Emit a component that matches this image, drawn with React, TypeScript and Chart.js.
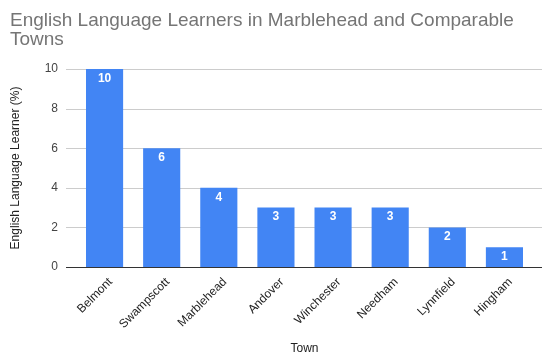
import React, { useEffect, useRef } from "react";
import { Chart, registerables } from "chart.js";

Chart.register(...registerables);

const titleLines = ["English Language Learners in Marblehead and Comparable", "Towns"];
const towns = ["Belmont", "Swampscott", "Marblehead", "Andover", "Winchester", "Needham", "Lynnfield", "Hingham"];
const values = [10, 6, 4, 3, 3, 3, 2, 1];
const yTicks = [0, 2, 4, 6, 8, 10];
const xTitle = "Town";
const yTitle = "English Language Learner (%)";

const FONT = "Arial, 'Liberation Sans', sans-serif";

export default function App() {
  const ref = useRef<HTMLCanvasElement>(null);
  useEffect(() => {
    const decor = {
      id: "decor",
      beforeDatasetsDraw(chart: any) {
        const { ctx, chartArea } = chart;
        const y = chart.scales.y;
        ctx.save();
        ctx.lineWidth = 1;
        ctx.strokeStyle = "#cccccc";
        yTicks.forEach((t) => {
          if (t === 0) return;
          const py = Math.round(y.getPixelForValue(t)) + 0.5;
          ctx.beginPath();
          ctx.moveTo(chartArea.left - 10, py);
          ctx.lineTo(chartArea.right + 9, py);
          ctx.stroke();
        });
        ctx.restore();
      },
      afterDatasetsDraw(chart: any) {
        const { ctx, chartArea } = chart;
        const y = chart.scales.y;
        ctx.save();
        ctx.strokeStyle = "#333333";
        ctx.lineWidth = 1;
        const py = Math.round(y.getPixelForValue(0)) + 0.5;
        ctx.beginPath();
        ctx.moveTo(chartArea.left - 10, py);
        ctx.lineTo(chartArea.right + 9, py);
        ctx.stroke();
        const meta = chart.getDatasetMeta(0);
        ctx.fillStyle = "#ffffff";
        ctx.font = "bold 12px " + FONT;
        ctx.textAlign = "center";
        ctx.textBaseline = "middle";
        meta.data.forEach((bar: any, i: number) => {
          ctx.fillText(String(values[i]), bar.x, bar.y + 9.5);
        });
        ctx.fillStyle = "#757575";
        ctx.font = "19px " + FONT;
        ctx.textAlign = "left";
        ctx.textBaseline = "alphabetic";
        titleLines.forEach((l, i) => ctx.fillText(l, 10, 26 + i * 19));
        ctx.restore();
      },
    };
    const chart = new Chart(ref.current!, {
      type: "bar",
      data: {
        labels: towns,
        datasets: [
          {
            data: values,
            backgroundColor: "#4285F4",
            barPercentage: 0.65,
            categoryPercentage: 1,
          },
        ],
      },
      plugins: [decor],
      options: {
        animation: false,
        responsive: false,
        layout: { padding: { top: 69, right: 21, left: 8, bottom: 8 } },
        plugins: { legend: { display: false }, tooltip: { enabled: false }, title: { display: false } },
        scales: {
          x: {
            grid: { display: false },
            border: { display: false },
            ticks: {
              minRotation: 45,
              maxRotation: 45,
              color: "#222222",
              font: { size: 12, family: FONT },
              padding: 0,
              labelOffset: 6,
            },
            title: {
              display: true,
              text: xTitle,
              color: "#222222",
              font: { size: 12, family: FONT },
              padding: { top: 0, bottom: 0 },
            },
            afterFit(scale: any) {
              scale.height = 364 - 267 - 8;
            },
          },
          y: {
            min: 0,
            max: 10,
            afterBuildTicks(scale: any) {
              scale.ticks = yTicks.map((v) => ({ value: v }));
            },
            grid: { display: false },
            border: { display: false },
            ticks: {
              color: "#444444",
              font: { size: 12, family: FONT },
              padding: 10,
            },
            title: {
              display: true,
              text: yTitle,
              color: "#222222",
              font: { size: 12, family: FONT },
              padding: { top: 0, bottom: 0 },
            },
            afterFit(scale: any) {
              scale.width = 76 - 8;
            },
          },
        },
      },
    });
    return () => chart.destroy();
  }, []);
  return (
    <div style={{ position: "fixed", left: 0, top: 0, width: 554, height: 364, background: "#fff" }}>
      <canvas ref={ref} width={554} height={364} style={{ width: 554, height: 364 }} />
    </div>
  );
}
